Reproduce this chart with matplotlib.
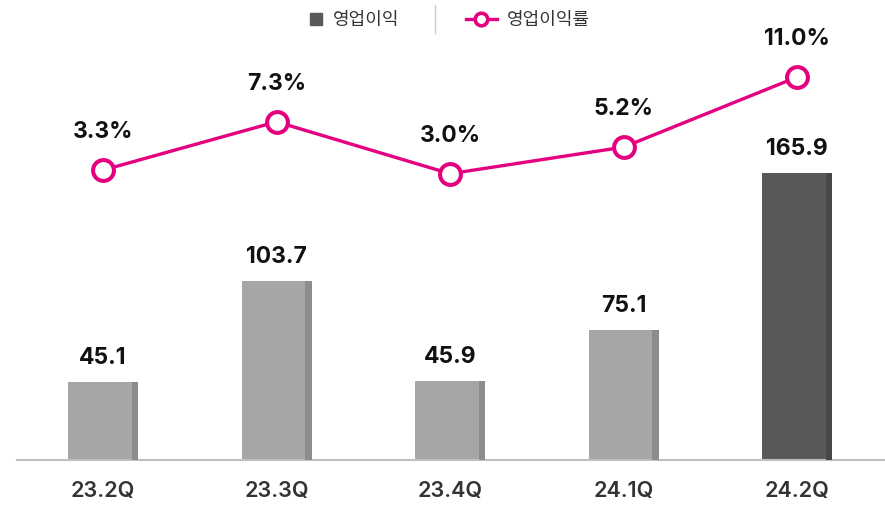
import matplotlib.pyplot as plt
from matplotlib.lines import Line2D

plt.rcParams['font.family'] = ['Noto Sans CJK KR', 'DejaVu Sans']
num_font = ['Inter', 'Noto Sans CJK KR']

quarters = ['23.2Q', '23.3Q', '23.4Q', '24.1Q', '24.2Q']
op_profit = [45.1, 103.7, 45.9, 75.1, 165.9]
op_margin = [3.3, 7.3, 3.0, 5.2, 11.0]

bar_colors = ['#a6a6a6', '#a6a6a6', '#a6a6a6', '#a6a6a6', '#595959']
side_colors = ['#8c8c8c', '#8c8c8c', '#8c8c8c', '#8c8c8c', '#474747']
line_color = '#e4007f'

fig = plt.figure(figsize=(8.85, 5.05), dpi=100)
ax = fig.add_axes([17 / 885, 1 - 460 / 505, 868 / 885, 460 / 505])
x = list(range(len(quarters)))

bw = 0.403
side = 0.035
ax.bar(x, op_profit, width=bw, color=bar_colors, zorder=2)
ax.bar([i + bw / 2 - side for i in x], op_profit, width=side, align='edge',
       color=side_colors, zorder=3)
for i, v in zip(x, op_profit):
    ax.annotate(f'{v:.1f}', (i, v), xytext=(0, 17), textcoords='offset points',
                ha='center', va='center', fontsize=16.5, fontweight='bold',
                color='#111111', family=num_font)

ax.set_xlim(-0.496, 4.507)
ax.set_ylim(0, 265.9)
ax.set_xticks(x)
ax.set_xticklabels(quarters, fontsize=15.5, color='#333333', fontweight='semibold',
                   family=num_font)
ax.tick_params(axis='x', length=0, pad=15)
ax.set_yticks([])
for s in ['top', 'left', 'right']:
    ax.spines[s].set_visible(False)
ax.spines['bottom'].set_color('#bfbfbf')
ax.spines['bottom'].set_linewidth(1.5)

ax2 = ax.twinx()
ax2.plot(x, op_margin, color=line_color, lw=2.4, marker='o', markersize=15,
         markerfacecolor='white', markeredgecolor=line_color, markeredgewidth=2.9, zorder=5)
for i, v in zip(x, op_margin):
    ax2.annotate(f'{v:.1f}%', (i, v), xytext=(0, 27.5), textcoords='offset points',
                 ha='center', va='center', fontsize=16.5, fontweight='bold',
                 color='#111111', family=num_font)
ax2.set_ylim(-20.7, 17.38)
ax2.axis('off')

bar_handle = Line2D([], [], ls='none', marker='s', markersize=9, color='#595959')
line_handle = Line2D([], [], color=line_color, lw=2.4, marker='o', markersize=9,
                     markerfacecolor='white', markeredgecolor=line_color, markeredgewidth=2.6)
leg1 = fig.legend([bar_handle], ['영업이익'], loc='center', bbox_to_anchor=(354 / 885, 0.960),
                  frameon=False, fontsize=13, handlelength=0.8, handletextpad=0.5,
                  borderpad=0, borderaxespad=0)
leg2 = fig.legend([line_handle], ['영업이익률'], loc='center', bbox_to_anchor=(528 / 885, 0.960),
                  frameon=False, fontsize=13, handlelength=1.75, handletextpad=0.55,
                  borderpad=0, borderaxespad=0)
for leg in (leg1, leg2):
    for t in leg.get_texts():
        t.set_color('#333333')
fig.add_artist(Line2D([435 / 885, 435 / 885], [1 - 33 / 505, 1 - 5 / 505],
                      color='#cccccc', lw=1))

fig.savefig('out.png', dpi=100)
